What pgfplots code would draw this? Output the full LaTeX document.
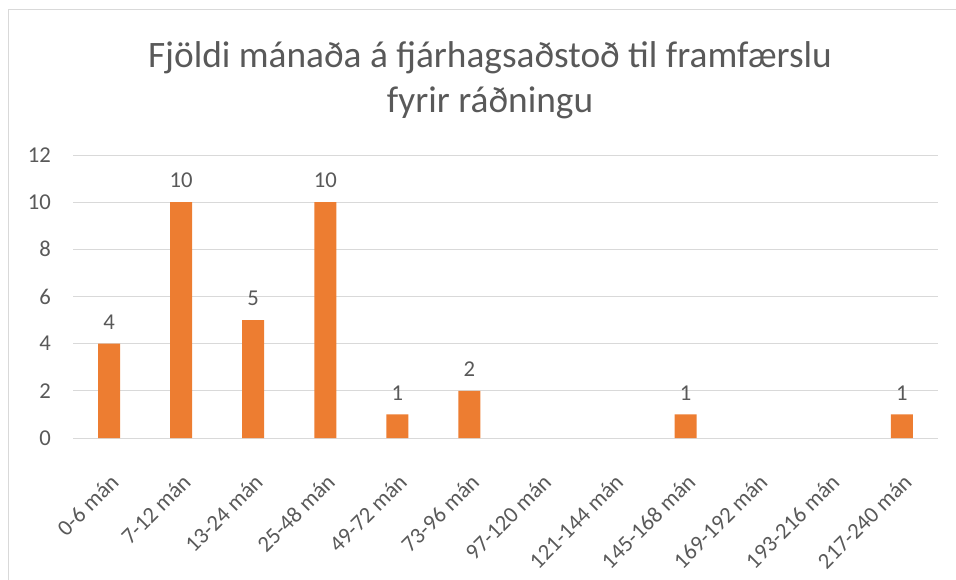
\documentclass[border=0pt]{standalone}
\usepackage{pgfplots}
\pgfplotsset{compat=1.18}
\usepackage{fontspec}
\setmainfont{Carlito}
\definecolor{barorange}{HTML}{ED7D31}
\definecolor{txt}{HTML}{595959}
\definecolor{gridc}{HTML}{D9D9D9}
\begin{document}
\begin{tikzpicture}
\useasboundingbox (0,0) rectangle (717pt,434.25pt);
\draw[gridc, line width=0.75pt] (6.5pt,-10pt) -- (6.5pt,426.75pt) -- (730pt,426.75pt);
\node[txt, align=center, font=\fontsize{28}{34}\selectfont] at (367.5pt,374pt) {Fjöldi mánaða á fjárhagsaðstoð til framfærslu\\fyrir ráðningu};
\begin{axis}[at={(54.75pt,105.75pt)}, anchor=south west, scale only axis,
  width=648.75pt, height=212.25pt,
  xmin=-0.5, xmax=11.5, ymin=0, ymax=12,
  ytick={0,2,...,12}, xtick={0,...,11},
  xticklabels={0-6 mán,7-12 mán,13-24 mán,25-48 mán,49-72 mán,73-96 mán,97-120 mán,121-144 mán,145-168 mán,169-192 mán,193-216 mán,217-240 mán},
  ymajorgrids, grid style={gridc, line width=0.75pt},
  axis line style={draw=none}, major tick length=0pt,
  tick label style={txt, font=\fontsize{17}{20}\selectfont},
  /pgf/number format/assume math mode=true,
  xticklabel style={rotate=45, anchor=north east, yshift=-15pt, xshift=-15pt},
  yticklabel style={xshift=-13pt},
  clip=false]
\addplot[ybar, bar width=16.5pt, fill=barorange, draw=none] coordinates {(0,4) (1,10) (2,5) (3,10) (4,1) (5,2) (8,1) (11,1)};
\addplot[only marks, mark=none, point meta=explicit symbolic, nodes near coords,
  nodes near coords style={txt, font=\fontsize{17}{20}\selectfont, anchor=south, yshift=7pt}]
  coordinates {(0,4)[4] (1,10)[10] (2,5)[5] (3,10)[10] (4,1)[1] (5,2)[2] (8,1)[1] (11,1)[1]};
\end{axis}
\end{tikzpicture}
\end{document}
